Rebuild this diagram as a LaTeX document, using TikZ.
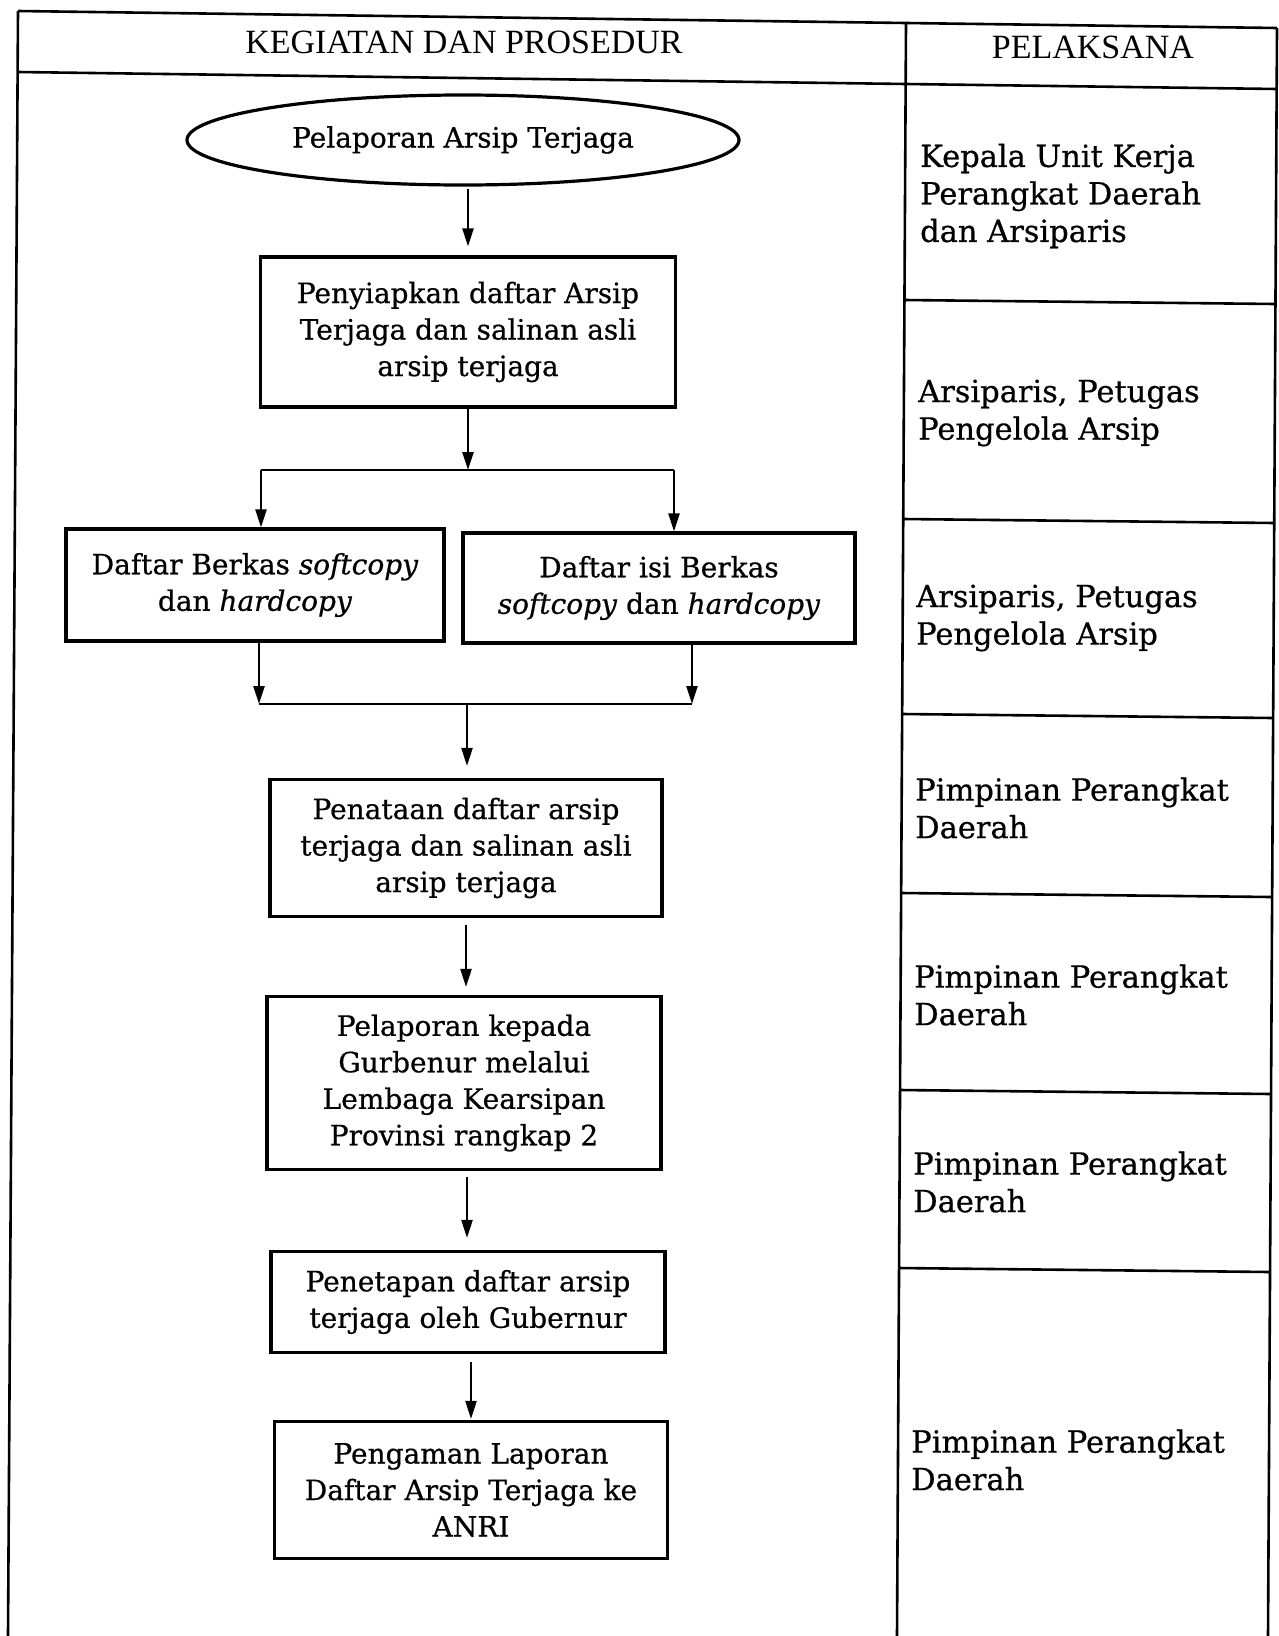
\documentclass[tikz,border=0pt]{standalone}
\usepackage{fontspec}
\setmainfont[FakeBold=0.6]{DejaVu Serif}
\newfontfamily\headfont{Liberation Serif}
\usetikzlibrary{arrows.meta,shapes.geometric,calc}
\begin{document}
\begin{tikzpicture}[x=1pt,y=-1pt,
  tline/.style={line width=2.6pt},
  flowbox/.style={draw,line width=3.2pt,rectangle,align=center,inner sep=0pt,font=\fontsize{28}{36.5}\selectfont},
  startnode/.style={draw,ellipse,line width=3.2pt,inner sep=0pt,font=\fontsize{28}{36.5}\selectfont},
  arr/.style={line width=2.3pt,-{Triangle[length=18pt,width=11pt]}},
  conn/.style={line width=2.8pt},
  pel/.style={anchor=west,align=left,inner sep=0pt,font=\fontsize{30.5}{37.5}\selectfont},
  head/.style={inner sep=0pt,font=\headfont\fontsize{34}{40}\selectfont}]

\useasboundingbox[fill=white] (0,0) rectangle (1279,1636);

% table
\draw[tline] (18,11) -- (906,23) -- (1277,28);
\draw[tline] (18,72) -- (906,84) -- (1277,89);
\draw[tline] (18,11) -- (8,1636);
\draw[tline] (906,23) -- (897,1636);
\draw[tline] (1277,28) -- (1268,1636);
\draw[tline] (904.4,300) -- (1275.5,304);
\draw[tline] (903.2,519) -- (1274.2,523);
\draw[tline] (902.1,714) -- (1273.1,718);
\draw[tline] (901.1,893) -- (1272.1,897);
\draw[tline] (900,1090) -- (1271,1094);
\draw[tline] (899,1268) -- (1270,1272);

\node[head] (h1) at (464,42) {KEGIATAN DAN PROSEDUR};
\node[head] (h2) at (1093,47) {PELAKSANA};

% pelaksana
\node[pel] (p1) at (920,196) {Kepala Unit Kerja\\Perangkat Daerah\\dan Arsiparis};
\node[pel] (p2) at (918,413) {Arsiparis, Petugas\\Pengelola Arsip};
\node[pel] (p3) at (916,618) {Arsiparis, Petugas\\Pengelola Arsip};
\node[pel] (p4) at (915,808) {Pimpinan Perangkat\\Daerah};
\node[pel] (p5) at (914,995) {Pimpinan Perangkat\\Daerah};
\node[pel] (p6) at (913,1182) {Pimpinan Perangkat\\Daerah};
\node[pel] (p7) at (911,1460) {Pimpinan Perangkat\\Daerah};

% flow
\node[startnode,minimum width=552pt,minimum height=90pt] (start) at (463,140) {Pelaporan Arsip Terjaga};
\node[flowbox,minimum width=415pt,minimum height=150pt] (b1) at (468,332) {Penyiapkan daftar Arsip\\Terjaga dan salinan asli\\arsip terjaga};
\node[flowbox,minimum width=378pt,minimum height=112pt] (b2) at (255,585) {Daftar Berkas \textit{softcopy}\\dan \textit{hardcopy}};
\node[flowbox,minimum width=392pt,minimum height=110pt] (b3) at (659,588) {Daftar isi Berkas\\\textit{softcopy} dan \textit{hardcopy}};
\node[flowbox,minimum width=392pt,minimum height=137pt] (b4) at (466,848) {Penataan daftar arsip\\terjaga dan salinan asli\\arsip terjaga};
\node[flowbox,minimum width=394pt,minimum height=173pt] (b5) at (464,1083) {Pelaporan kepada\\Gurbenur melalui\\Lembaga Kearsipan\\Provinsi rangkap 2};
\node[flowbox,minimum width=394pt,minimum height=101pt] (b6) at (468,1302) {Penetapan daftar arsip\\terjaga oleh Gubernur};
\node[flowbox,minimum width=393pt,minimum height=137pt] (b7) at (471,1490) {Pengaman Laporan\\Daftar Arsip Terjaga ke\\ANRI};

\coordinate (split) at (467,470);
\coordinate (sl) at (261,470);
\coordinate (sr) at (674,470);
\coordinate (ml) at (259,704);
\coordinate (mr) at (692,704);
\coordinate (mc) at (467,704);

\draw[arr,shorten <=2pt,shorten >=9pt] (start.south -| b1.north) -- (b1.north);
\draw[arr] (b1.south) -- (b1.south |- split);
\draw[conn] (sl) -- (sr);
\draw[arr] (sl) -- (sl |- b2.north);
\draw[arr] (sr) -- (sr |- b3.north);
\draw[arr] (ml |- b2.south) -- (ml);
\draw[arr] (mr |- b3.south) -- (mr);
\draw[conn] (ml) -- (mr);
\draw[arr,shorten >=12pt] (mc) -- (mc |- b4.north);
\draw[arr,shorten <=7pt,shorten >=8pt] (b4.south) -- (b4.south |- b5.north);
\draw[arr,shorten <=6pt,shorten >=12pt] ([xshift=3pt]b5.south) -- ([xshift=3pt]b5.south |- b6.north);
\draw[arr,shorten <=8pt,shorten >=1pt] ([xshift=3pt]b6.south) -- ([xshift=3pt]b6.south |- b7.north);
\end{tikzpicture}
\end{document}
